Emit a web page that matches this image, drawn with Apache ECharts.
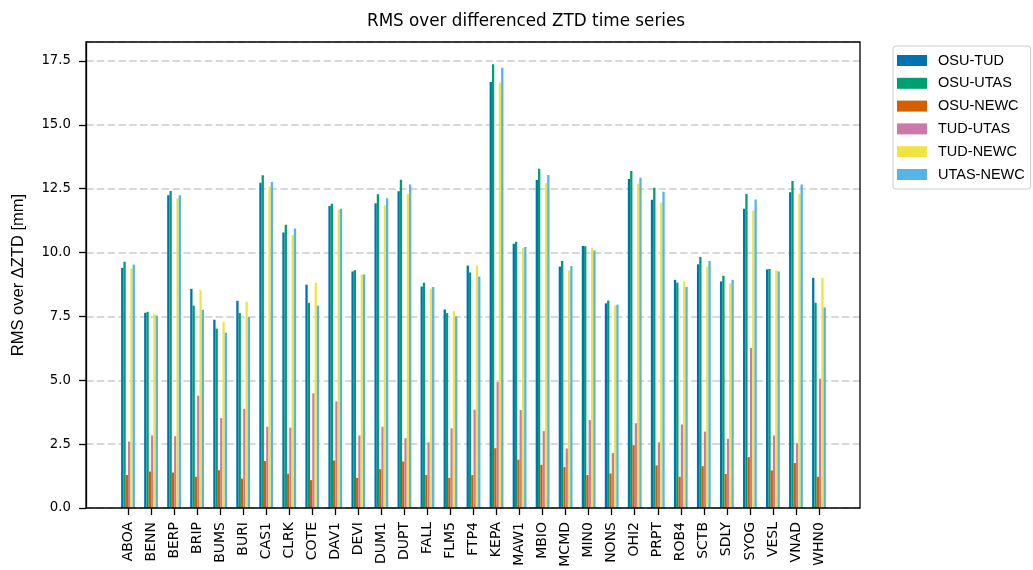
<!DOCTYPE html>
<html>
<head>
<meta charset="utf-8">
<script src="https://cdn.jsdelivr.net/npm/echarts@6/dist/echarts.min.js"></script>
<style>html,body{margin:0;padding:0;background:#fff;}#c{width:1033px;height:570px;}</style>
</head>
<body>
<div id="c"></div>
<script>
const stations = ['ABOA','BENN','BERP','BRIP','BUMS','BURI','CAS1','CLRK','COTE','DAV1','DEVI','DUM1','DUPT','FALL','FLM5','FTP4','KEPA','MAW1','MBIO','MCMD','MIN0','NONS','OHI2','PRPT','ROB4','SCTB','SDLY','SYOG','VESL','VNAD','WHN0'];
const seriesNames = ['OSU-TUD','OSU-UTAS','OSU-NEWC','TUD-UTAS','TUD-NEWC','UTAS-NEWC'];
const osuTud  = [9.40,7.64,12.24,8.58,7.37,8.11,12.73,10.78,8.74,11.82,9.26,11.93,12.40,8.67,7.77,9.49,16.67,10.34,12.84,9.45,10.26,8.01,12.88,12.07,8.93,9.54,8.87,11.71,9.34,12.36,9.01];
const osuUtas = [9.64,7.68,12.41,7.92,7.02,7.63,13.02,11.09,8.03,11.91,9.31,12.28,12.85,8.82,7.63,9.22,17.37,10.42,13.28,9.67,10.25,8.12,13.19,12.54,8.82,9.83,9.09,12.29,9.36,12.80,8.03];
const osuNewc = [1.29,1.43,1.39,1.22,1.48,1.15,1.84,1.34,1.09,1.86,1.18,1.52,1.82,1.29,1.18,1.29,2.34,1.89,1.69,1.60,1.29,1.35,2.46,1.67,1.22,1.64,1.33,1.99,1.47,1.76,1.22];
const tudUtas = [2.60,2.84,2.81,4.40,3.52,3.88,3.18,3.15,4.49,4.17,2.84,3.18,2.73,2.57,3.12,3.85,4.93,3.83,3.01,2.33,3.44,2.15,3.32,2.57,3.27,2.99,2.71,6.26,2.84,2.54,5.06];
const tudNewc = [9.37,7.59,12.12,8.53,7.29,8.07,12.58,10.69,8.82,11.68,9.14,11.84,12.29,8.59,7.71,9.49,16.65,10.18,12.72,9.30,10.18,7.93,12.70,11.95,8.87,9.45,8.79,11.64,9.30,12.30,9.01];
const utasNewc= [9.53,7.53,12.24,7.76,6.86,7.47,12.76,10.94,7.92,11.71,9.14,12.12,12.66,8.65,7.50,9.06,17.23,10.22,13.03,9.47,10.08,7.96,12.93,12.38,8.65,9.67,8.93,12.08,9.26,12.66,7.85];
const yTicks = {min: 0, max: 18.24, interval: 2.5};
const colors = ['#0072B2','#009E73','#D55E00','#CC79A7','#F0E442','#56B4E9'];
const values = [osuTud, osuUtas, osuNewc, tudUtas, tudNewc, utasNewc];

const chart = echarts.init(document.getElementById('c'), null, {renderer: 'canvas'});
const font = 'DejaVu Sans';
const sans = '"Liberation Sans", Arial, sans-serif';
chart.setOption({
  animation: false,
  backgroundColor: '#fff',
  title: {
    text: 'RMS over differenced ZTD time series',
    left: 521, top: 8, textAlign: 'center',
    textStyle: {fontFamily: font, fontSize: 16.8, fontWeight: 'normal', color: '#000'}
  },
  legend: {
    data: seriesNames,
    orient: 'vertical',
    left: 893, top: 46,
    itemWidth: 30, itemHeight: 11, itemGap: 7.8,
    padding: [7, 6, 7, 4],
    borderColor: '#cccccc', borderWidth: 1, borderRadius: 3,
    icon: 'rect',
    textStyle: {fontFamily: sans, fontSize: 14.5, lineHeight: 14.5, color: '#000', padding: [0,0,0,6]}
  },
  grid: [
    {left: 86, right: 173, top: 42, bottom: 62, show: true, borderColor: '#000', borderWidth: 1.3, backgroundColor: 'transparent', z: 3},
    {left: 116.5, width: 714, top: 42, bottom: 62}
  ],
  xAxis: [
    {type: 'category', gridIndex: 0, data: stations, show: false},
    {type: 'category', gridIndex: 1, data: stations,
     axisLine: {show: false},
     axisTick: {show: true, alignWithLabel: true, length: 7, lineStyle: {color: '#000', width: 1.3}},
     axisLabel: {rotate: 90, interval: 0, margin: 14, fontFamily: font, fontSize: 14, color: '#000'}}
  ],
  yAxis: [
    {type: 'value', gridIndex: 0, min: yTicks.min, max: yTicks.max, interval: yTicks.interval,
     name: 'RMS over ΔZTD [mm]', nameLocation: 'middle', nameGap: 59, nameRotate: 90,
     nameTextStyle: {fontFamily: sans, fontSize: 16.5, color: '#000'},
     axisLine: {show: true, lineStyle: {color: '#000', width: 1.3}},
     axisTick: {show: true, length: 7, lineStyle: {color: '#000', width: 1.3}},
     axisLabel: {showMaxLabel: false, fontFamily: font, fontSize: 13.3, color: '#000', margin: 15, formatter: v => v.toFixed(1)},
     splitLine: {show: true, lineStyle: {color: '#cccccc', type: [7.5, 3.3], width: 1.5}}},
    {type: 'value', gridIndex: 1, min: yTicks.min, max: yTicks.max, interval: yTicks.interval, show: false, splitLine: {show: false}}
  ],
  series: seriesNames.map((n, i) => ({
    name: n, type: 'bar', xAxisIndex: 1, yAxisIndex: 1,
    data: values[i], barWidth: 2.3, barGap: '0%',
    itemStyle: {color: colors[i]}
  }))
});
</script>
</body>
</html>
